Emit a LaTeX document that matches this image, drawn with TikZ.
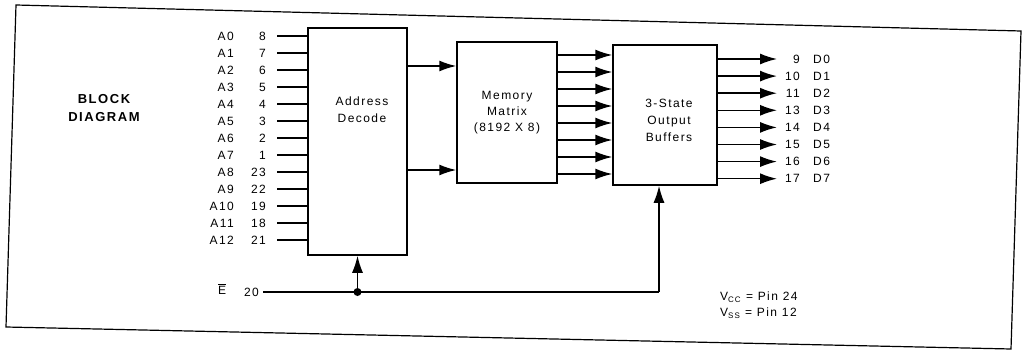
\documentclass[tikz,border=0pt]{standalone}
\usepackage{fontspec}
\setmainfont{Liberation Sans}
\newfontfamily\pinfont[LetterSpace=12]{Liberation Sans}
\usetikzlibrary{positioning, arrows.meta}

\tikzset{
  blk/.style={draw, line width=1.5pt, inner sep=0pt},
  wire/.style={line width=1.5pt},
  sig/.style={wire, -{Latex[length=17pt,width=11pt]}},
  pintxt/.style={inner sep=0pt, font=\pinfont\fontsize{12}{17}\selectfont},
}

\begin{document}
\begin{tikzpicture}[x=1pt, y=-1pt]
  \useasboundingbox (0,0) rectangle (1022,350);
  % outer frame (the scan is a bit skewed)
  \draw[line width=1.2pt] (16,5) -- (1021,31) -- (1011,349) -- (6,327) -- cycle;

  \node[pintxt, font=\pinfont\bfseries\fontsize{13}{18}\selectfont, align=center] (title) at (104,108) {BLOCK\\DIAGRAM};

  % the three blocks
  \node[blk, minimum width=99pt, minimum height=227pt] (dec) at (357.5,141.5) {};
  \node[pintxt, align=center] (decTxt) at (362,110) {Address\\Decode};
  \node[blk, minimum width=100pt, minimum height=141pt] (mem) at (507,112.5) {};
  \node[pintxt, align=center, font=\pinfont\fontsize{12}{16}\selectfont] (memTxt) at (507,113) {Memory\\Matrix\\(8192 X 8)};
  \node[blk, minimum width=104pt, minimum height=140pt] (buf) at (665,115) {};
  \node[pintxt, align=center] (bufTxt) at (669,120) {3-State\\Output\\Buffers};

  % address pins
  \foreach \nm/\pin [count=\k from 0] in {A0/8, A1/7, A2/6, A3/5, A4/4, A5/3, A6/2,
      A7/1, A8/23, A9/22, A10/19, A11/18, A12/21} {
    \pgfmathsetmacro\yy{36+17*\k}
    \node[pintxt, anchor=east] (num\k) at (266,\yy) {\pin};
    \node[pintxt, anchor=east] (nm\k) at (234,\yy) {\nm};
    \draw[wire] ([xshift=11pt]num\k.east) -- (dec.west |- num\k.east);
  }

  % decode -> matrix
  \foreach \yy in {66,170}
    \draw[sig] (dec.east |- 0,\yy) -- (mem.west |- 0,\yy);

  % matrix -> buffers
  \foreach \k in {0,...,7} {
    \pgfmathsetmacro\yy{55+17*\k}
    \draw[sig] (mem.east |- 0,\yy) -- (buf.west |- 0,\yy);
  }

  % data outputs
  \foreach \pin/\nm [count=\k from 0] in {9/D0, 10/D1, 11/D2, 13/D3, 14/D4,
      15/D5, 16/D6, 17/D7} {
    \pgfmathsetmacro\yy{59+17.1*\k}
    \coordinate (tip\k) at (777,\yy);
    \node[pintxt, anchor=east] (onum\k) at (800,\yy) {\pin};
    \node[pintxt, anchor=west] (onm\k) at (813,\yy) {\nm};
    \draw[sig] (buf.east |- tip\k) -- (tip\k);
  }

  % chip enable
  \node[pintxt, anchor=east] (enNum) at (259,292) {20};
  \node[pintxt] (enNm) at (222,289) {$\overline{\hbox{E}}$};
  \coordinate (enR) at (659,292);
  \coordinate (jn) at (dec.south |- enR);
  \draw[wire] ([xshift=4pt]enNum.east) -- (enR);
  \draw[sig] (enR) -- (enR |- buf.south);
  \draw[sig] (jn) -- (dec.south);
  \fill (jn) circle (4pt);

  \node[pintxt, anchor=west] (vcc) at (720,297) {V\textsubscript{CC} = Pin 24};
  \node[pintxt, anchor=west] (vss) at (720,313) {V\textsubscript{SS} = Pin 12};
\end{tikzpicture}
\end{document}
